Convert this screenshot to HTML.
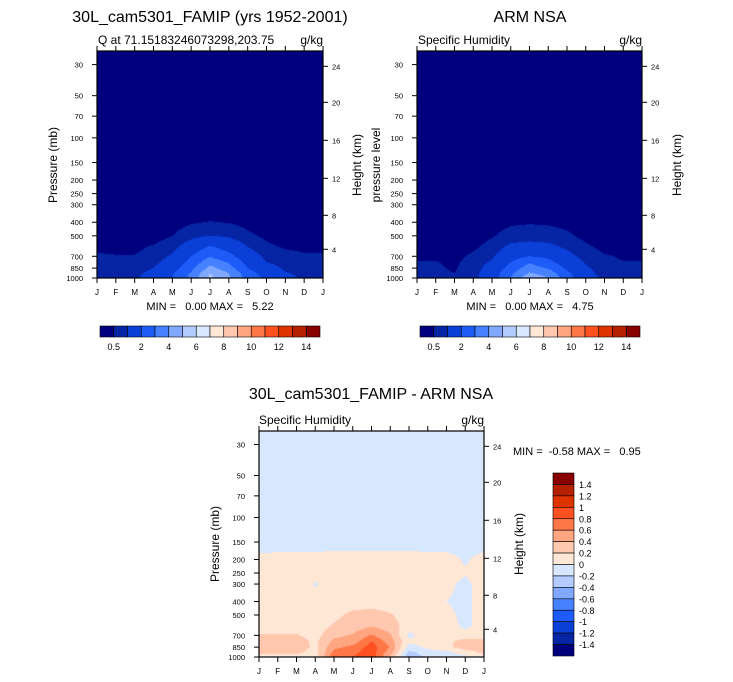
<!DOCTYPE html>
<html><head><meta charset="utf-8"><style>
html,body{margin:0;padding:0;background:#fff;}
#wrap{position:relative;width:733px;height:682px;overflow:hidden;font-family:"Liberation Sans",Arial,sans-serif;}
canvas{position:absolute;}
svg{position:absolute;left:0;top:0;}
svg text{white-space:pre;}
</style></head><body>
<div id="wrap">
<canvas id="c1"></canvas>
<canvas id="c2"></canvas>
<canvas id="c3"></canvas>
<svg id="s" width="733" height="682"></svg>
</div>
<script>
const months = ["J","F","M","A","M","J","J","A","S","O","N","D","J"];
const levels = [1000,925,850,775,700,600,500,400,300,250,200,170,150,100,70,50,30,24];
const pTicks = [30,50,70,100,150,200,250,300,400,500,700,850,1000];
const hTicks = ["24","20","16","12","8","4"];
const hTickY = [66,102,140,178,215,249];
const qLevels = [0.5,1,2,3,4,5,6,7,8,9,10,11,12,13,14];
const qLabels = ["0.5","2","4","6","8","10","12","14"];
const dLevels = [-1.4,-1.2,-1,-0.8,-0.6,-0.4,-0.2,0,0.2,0.4,0.6,0.8,1,1.2,1.4];
const colors = ["#00007e","#0525a5","#0a3fd8","#1e5cfa","#4682ff","#80a8ff","#b3cbff","#d6e7ff","#ffe7d6","#ffc8ae","#ffa57f","#ff7747","#ff5120","#e03400","#b52000","#880000"];
const modelQ = [
[0.9,0.85,0.9,1.3,2.0,3.3,5.2,4.2,2.6,1.8,1.2,0.9,0.9],
[0.85,0.8,0.85,1.2,1.9,3.1,5.0,4.0,2.4,1.6,1.05,0.85,0.85],
[0.75,0.72,0.75,1.0,1.6,2.7,4.3,3.4,2.0,1.3,0.9,0.75,0.75],
[0.65,0.62,0.65,0.85,1.3,2.3,3.7,2.9,1.7,1.0,0.8,0.65,0.65],
[0.55,0.52,0.52,0.7,1.1,2.0,2.9,2.3,1.4,0.85,0.65,0.55,0.55],
[0.42,0.4,0.4,0.55,0.8,1.4,2.1,1.6,1.0,0.6,0.45,0.42,0.42],
[0.2,0.2,0.2,0.3,0.5,0.8,1.0,0.9,0.6,0.4,0.25,0.2,0.2],
[0.1,0.1,0.1,0.15,0.3,0.45,0.52,0.48,0.35,0.2,0.1,0.1,0.1],
[0.05,0.05,0.05,0.05,0.1,0.15,0.2,0.18,0.1,0.05,0.05,0.05,0.05],
[0.02,0.02,0.02,0.02,0.05,0.08,0.1,0.08,0.05,0.02,0.02,0.02,0.02],
[0.01,0.01,0.01,0.01,0.02,0.03,0.04,0.03,0.02,0.01,0.01,0.01,0.01],
[0.01,0.01,0.01,0.01,0.01,0.01,0.01,0.01,0.01,0.01,0.01,0.01,0.01],
[0.01,0.01,0.01,0.01,0.01,0.01,0.01,0.01,0.01,0.01,0.01,0.01,0.01],
[0.01,0.01,0.01,0.01,0.01,0.01,0.01,0.01,0.01,0.01,0.01,0.01,0.01],
[0.01,0.01,0.01,0.01,0.01,0.01,0.01,0.01,0.01,0.01,0.01,0.01,0.01],
[0.01,0.01,0.01,0.01,0.01,0.01,0.01,0.01,0.01,0.01,0.01,0.01,0.01],
[0.01,0.01,0.01,0.01,0.01,0.01,0.01,0.01,0.01,0.01,0.01,0.01,0.01],
[0.01,0.01,0.01,0.01,0.01,0.01,0.01,0.01,0.01,0.01,0.01,0.01,0.01]];
const obsQ = [
[0.6,0.6,0.55,0.8,1.5,3.0,4.75,4.0,2.4,1.3,0.9,0.7,0.6],
[0.6,0.6,0.5,0.8,1.4,2.8,4.1,3.6,2.2,1.2,0.8,0.6,0.6],
[0.55,0.55,0.45,0.75,1.3,2.4,3.5,2.9,1.8,1.1,0.7,0.55,0.55],
[0.52,0.52,0.42,0.7,1.1,2.0,2.9,2.3,1.5,0.95,0.6,0.52,0.52],
[0.45,0.45,0.35,0.6,0.9,1.6,2.0,1.8,1.2,0.8,0.55,0.45,0.45],
[0.25,0.25,0.25,0.4,0.7,1.15,1.2,1.15,0.9,0.6,0.35,0.25,0.25],
[0.15,0.15,0.15,0.25,0.45,0.7,0.8,0.75,0.6,0.35,0.2,0.15,0.15],
[0.1,0.1,0.1,0.15,0.3,0.42,0.45,0.42,0.35,0.2,0.1,0.1,0.1],
[0.05,0.05,0.05,0.05,0.1,0.12,0.15,0.12,0.1,0.05,0.05,0.05,0.05],
[0.02,0.02,0.02,0.02,0.05,0.06,0.08,0.06,0.05,0.02,0.02,0.02,0.02],
[0.01,0.01,0.01,0.01,0.02,0.03,0.03,0.03,0.02,0.01,0.01,0.01,0.01],
[0.01,0.01,0.01,0.01,0.01,0.01,0.01,0.01,0.01,0.01,0.01,0.01,0.01],
[0.01,0.01,0.01,0.01,0.01,0.01,0.01,0.01,0.01,0.01,0.01,0.01,0.01],
[0.01,0.01,0.01,0.01,0.01,0.01,0.01,0.01,0.01,0.01,0.01,0.01,0.01],
[0.01,0.01,0.01,0.01,0.01,0.01,0.01,0.01,0.01,0.01,0.01,0.01,0.01],
[0.01,0.01,0.01,0.01,0.01,0.01,0.01,0.01,0.01,0.01,0.01,0.01,0.01],
[0.01,0.01,0.01,0.01,0.01,0.01,0.01,0.01,0.01,0.01,0.01,0.01,0.01],
[0.01,0.01,0.01,0.01,0.01,0.01,0.01,0.01,0.01,0.01,0.01,0.01,0.01]];
const diffQ = [
[0.12,0.12,0.12,0.08,0.75,0.8,0.95,0.35,-0.35,-0.15,-0.1,-0.05,0.12],
[0.25,0.25,0.25,0.12,0.65,0.75,0.9,0.5,-0.25,-0.1,-0.05,0.1,0.25],
[0.32,0.32,0.32,0.15,0.55,0.65,0.9,0.58,-0.1,0.05,0.15,0.3,0.3],
[0.3,0.3,0.3,0.15,0.45,0.5,0.8,0.5,0.05,0.1,0.15,0.28,0.28],
[0.22,0.22,0.22,0.12,0.35,0.42,0.62,0.42,-0.05,0.1,0.1,0.1,0.12],
[0.1,0.1,0.1,0.1,0.22,0.3,0.38,0.3,0.1,0.1,0.1,-0.05,0.1],
[0.1,0.1,0.1,0.1,0.15,0.25,0.27,0.22,0.1,0.1,0.05,-0.05,0.1],
[0.1,0.1,0.1,0.1,0.1,0.1,0.12,0.1,0.1,0.1,0.0,-0.05,0.1],
[0.1,0.1,0.1,-0.02,0.1,0.1,0.1,0.1,0.05,0.1,0.05,-0.05,0.1],
[0.1,0.1,0.1,0.1,0.1,0.1,0.1,0.1,0.1,0.1,0.1,0.02,0.1],
[0.05,0.06,0.06,0.06,0.07,0.08,0.08,0.08,0.07,0.06,0.06,-0.02,0.06],
[-0.03,-0.02,-0.02,-0.02,-0.01,-0.01,-0.01,-0.01,-0.01,-0.02,-0.02,-0.04,-0.02],
[-0.1,-0.1,-0.1,-0.1,-0.1,-0.1,-0.1,-0.1,-0.1,-0.1,-0.1,-0.1,-0.1],
[-0.1,-0.1,-0.1,-0.1,-0.1,-0.1,-0.1,-0.1,-0.1,-0.1,-0.1,-0.1,-0.1],
[-0.1,-0.1,-0.1,-0.1,-0.1,-0.1,-0.1,-0.1,-0.1,-0.1,-0.1,-0.1,-0.1],
[-0.1,-0.1,-0.1,-0.1,-0.1,-0.1,-0.1,-0.1,-0.1,-0.1,-0.1,-0.1,-0.1],
[-0.1,-0.1,-0.1,-0.1,-0.1,-0.1,-0.1,-0.1,-0.1,-0.1,-0.1,-0.1,-0.1],
[-0.1,-0.1,-0.1,-0.1,-0.1,-0.1,-0.1,-0.1,-0.1,-0.1,-0.1,-0.1,-0.1]];

const NS="http://www.w3.org/2000/svg";
const svg=document.getElementById('s');
function el(tag,attrs,parent){const e=document.createElementNS(NS,tag);for(const k in attrs)e.setAttribute(k,attrs[k]);(parent||svg).appendChild(e);return e;}
function txt(x,y,s,size,anchor,extra){const t=el('text',Object.assign({x:x,y:y,'font-size':size,'text-anchor':anchor||'start','font-family':'Liberation Sans, Arial, sans-serif',fill:'#000'},extra||{}));t.textContent=s;return t;}

function colorIdx(v,lv){let i=0;while(i<lv.length&&v>=lv[i])i++;return i;}

function drawPanel(canvasId,P,data,lv,names){
  const L=P.x0,R=P.x1,T=P.y0,B=P.y1,W=R-L,H=B-T;
  const dec=(B-T)/Math.log10(1000/24);
  const yOfP=p=>B-Math.log10(1000/p)*dec;
  const xOfM=m=>L+m*W/(months.length-1);
  const cv=document.getElementById(canvasId);
  cv.width=W;cv.height=H;cv.style.left=L+'px';cv.style.top=T+'px';
  const ctx=cv.getContext('2d');
  const ly=levels.map(p=>yOfP(p)-T);
  for(let py=0;py<H;py++){
    const yy=py+0.5;
    let k=0;while(k<ly.length-2&&yy<ly[k+1])k++;
    let fy=(ly[k]-yy)/(ly[k]-ly[k+1]);fy=Math.max(0,Math.min(1,fy));
    let runStart=0,runC=-1;
    for(let px=0;px<=W;px++){
      let c=-1;
      if(px<W){
        const mx=(px+0.5)/W*(months.length-1);
        let j=Math.min(Math.floor(mx),months.length-2);const fx=mx-j;
        const v=(data[k][j]*(1-fx)+data[k][j+1]*fx)*(1-fy)+(data[k+1][j]*(1-fx)+data[k+1][j+1]*fx)*fy;
        c=colorIdx(v,lv);
      }
      if(c!==runC){
        if(runC>=0){ctx.fillStyle=colors[runC];ctx.fillRect(runStart,py,px-runStart,1);}
        runC=c;runStart=px;
      }
    }
  }
  const g=el('g',{});
  
  
  el('rect',{x:L,y:T,width:W,height:H,fill:'none',stroke:'#000','stroke-width':1.2},g);
  months.forEach((m,i)=>{
    const x=xOfM(i);
    el('line',{x1:x,y1:B,x2:x,y2:B+5,stroke:'#000','stroke-width':1},g);
    el('line',{x1:x,y1:T,x2:x,y2:T-5,stroke:'#000','stroke-width':1},g);
    const t=txt(x,B+17,m,8,'middle');
    
    
  });
  pTicks.forEach(p=>{
    const y=yOfP(p);
    el('line',{x1:L,y1:y,x2:L-5,y2:y,stroke:'#000','stroke-width':1},g);
    const t=txt(L-14,y+3,String(p),7.5,'end');
    
    
  });
  hTicks.forEach((h,i)=>{
    const y=hTickY[i]+(T-50.7);
    el('line',{x1:R,y1:y,x2:R+5,y2:y,stroke:'#000','stroke-width':1},g);
    const t=txt(R+9,y+3,h,7.5,'start');
    
    
  });
}

const P1={x0:97,x1:323,y0:51,y1:278};
const P2={x0:417,x1:642,y0:51,y1:278};
const P3={x0:259,x1:484,y0:431,y1:657};
drawPanel('c1',P1,modelQ,qLevels,'model');
drawPanel('c2',P2,obsQ,qLevels,'obs');
drawPanel('c3',P3,diffQ,dLevels,'diff');

let t;
t=txt(210,22,'30L_cam5301_FAMIP (yrs 1952-2001)',16,'middle');
t=txt(98,44,'Q at 71.15183246073298,203.75',12,'start');
t=txt(323,44,'g/kg',12,'end');
t=txt(530,22,'ARM NSA',16,'middle');
t=txt(418,44,'Specific Humidity',12,'start');
t=txt(642,44,'g/kg',12,'end');
t=txt(371,399,'30L_cam5301_FAMIP - ARM NSA',16,'middle');
t=txt(259,424,'Specific Humidity',12,'start');
t=txt(484,424,'g/kg',12,'end');
function rot(x,y,s,name){const t=txt(x,y,s,12,'middle',{transform:'rotate(-90 '+x+' '+y+')'});}
rot(57,165,'Pressure (mb)','model-y-axis-title');
rot(361,165,'Height (km)','model-right-axis-title');
rot(380,165,'pressure level','obs-y-axis-title');
rot(681,165,'Height (km)','obs-right-axis-title');
rot(219,544,'Pressure (mb)','diff-y-axis-title');
rot(523,544,'Height (km)','diff-right-axis-title');
t=txt(210,310,'MIN =   0.00 MAX =   5.22',11,'middle');
t=txt(530,310,'MIN =   0.00 MAX =   4.75',11,'middle');
t=txt(513,455,'MIN =  -0.58 MAX =   0.95',11,'start');

function hbar(x0,name){
  const g=el('g',{});
  
  
  const w=220/colors.length;
  colors.forEach((c,i)=>{el('rect',{x:x0+i*w,y:326,width:w,height:11,fill:c,stroke:'#000','stroke-width':0.6},g);});
  qLabels.forEach((s,i)=>{const tt=txt(x0+(2*i+1)*w,350,s,9,'middle');g.appendChild(tt);});
}
hbar(100,'model-colorbar');
hbar(420,'obs-colorbar');
(function(){
  const g=el('g',{});
  
  
  const y0=473,h=(656-473)/colors.length;
  colors.slice().reverse().forEach((c,i)=>{el('rect',{x:553,y:y0+i*h,width:21,height:h,fill:c,stroke:'#000','stroke-width':0.6},g);});
  dLevels.slice().reverse().forEach((v,i)=>{const tt=txt(579,y0+(i+1)*h+3.5,String(v),9,'start');g.appendChild(tt);});
})();
</script>
</body></html>
